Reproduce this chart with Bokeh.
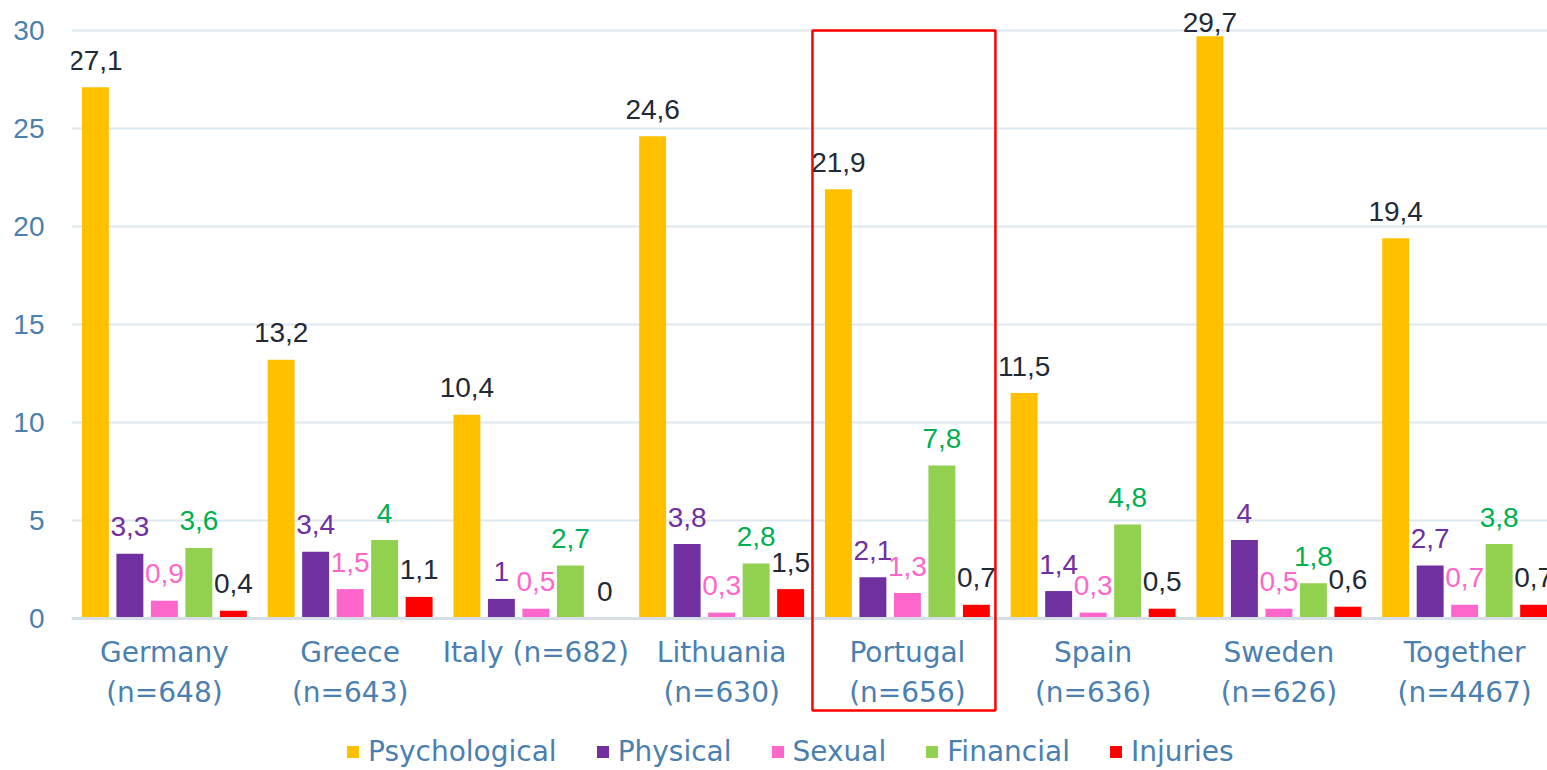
import numpy as np
from bokeh.plotting import figure
from bokeh.models import Range1d, FixedTicker, Legend, LegendItem, BoxAnnotation
from bokeh.embed import file_html
from bokeh.resources import INLINE
from bokeh.core.properties import value

# ---------------- data ----------------
countries = ["Germany", "Greece", "Italy", "Lithuania", "Portugal", "Spain", "Sweden", "Together"]
tick_labels = ["Germany\n(n=648)", "Greece\n(n=643)", "Italy (n=682)", "Lithuania\n(n=630)",
               "Portugal\n(n=656)", "Spain\n(n=636)", "Sweden\n(n=626)", "Together\n(n=4467)"]
series = ["Psychological", "Physical", "Sexual", "Financial", "Injuries"]
psychological = [27.1, 13.2, 10.4, 24.6, 21.9, 11.5, 29.7, 19.4]
physical = [3.3, 3.4, 1.0, 3.8, 2.1, 1.4, 4.0, 2.7]
sexual = [0.9, 1.5, 0.5, 0.3, 1.3, 0.3, 0.5, 0.7]
financial = [3.6, 4.0, 2.7, 2.8, 7.8, 4.8, 1.8, 3.8]
injuries = [0.4, 1.1, 0.0, 1.5, 0.7, 0.5, 0.6, 0.7]
y_ticks = [0, 5, 10, 15, 20, 25, 30]
highlight = "Portugal"

values = [psychological, physical, sexual, financial, injuries]
bar_colors = ["#ffc000", "#7030a0", "#ff66cc", "#92d050", "#ff0000"]
label_colors = ["#1f2a36", "#7030a0", "#ff66cc", "#00b050", "#1f2a36"]

NUM_FONT = "Liberation Sans"
WORD_FONT = "DejaVu Sans"
AXIS_COLOR = "#4a7fb0"

p = figure(width=1547, height=770, output_backend="svg", toolbar_location=None,
           x_range=Range1d(-0.5, 7.446), y_range=Range1d(-7.755, 31.53),
           min_border_left=71, min_border_right=0, min_border_top=0, min_border_bottom=0)
p.outline_line_color = None
p.background_fill_color = "white"
p.border_fill_color = "white"

p.xgrid.grid_line_color = None
p.ygrid.ticker = FixedTicker(ticks=y_ticks)
p.ygrid.grid_line_color = "#dce7f0"
p.ygrid.grid_line_width = 2

p.yaxis.ticker = FixedTicker(ticks=y_ticks)
p.yaxis.axis_line_color = None
p.yaxis.major_tick_line_color = None
p.yaxis.minor_tick_line_color = None
p.yaxis.major_label_text_font = NUM_FONT
p.yaxis.major_label_text_font_size = "28px"
p.yaxis.major_label_text_color = AXIS_COLOR
p.yaxis.major_label_standoff = 21

p.xaxis.fixed_location = 0
p.xaxis.ticker = FixedTicker(ticks=list(range(len(countries))))
p.xaxis.major_label_overrides = {i: lbl for i, lbl in enumerate(tick_labels)}
p.xaxis.axis_line_color = "#d6dee6"
p.xaxis.axis_line_width = 3
p.xaxis.major_tick_line_color = None
p.xaxis.minor_tick_line_color = None
p.xaxis.major_label_text_font = WORD_FONT
p.xaxis.major_label_text_font_size = "28px"
p.xaxis.major_label_text_color = AXIS_COLOR
p.xaxis.major_label_standoff = 12

step = 0.1857
bar_w = 0.145
group_x = np.arange(len(countries), dtype=float)
items = []
for i, (name, vals) in enumerate(zip(series, values)):
    xs = group_x + (i - 2) * step
    vals = np.array(vals, dtype=float)
    r = p.vbar(x=xs, top=vals, bottom=0, width=bar_w, fill_color=bar_colors[i],
               line_color=None)
    items.append(LegendItem(label=name, renderers=[r]))
    labels = [f"{v:g}".replace(".", ",") for v in vals]
    p.text(x=xs, y=np.minimum(vals, 29.05), text=labels, text_align="center",
           text_baseline="alphabetic", y_offset=-27,
           text_font=value(NUM_FONT), text_font_size="28px", text_color=label_colors[i])

# highlight box around one group
hi = countries.index(highlight)
box = BoxAnnotation(left=hi - 0.511, right=hi + 0.474, top=30, bottom=-4.69,
                    fill_color=None, fill_alpha=0, line_color="#ff0000",
                    line_alpha=1.0, line_width=2.5)
p.add_layout(box)

legend = Legend(items=items, orientation="horizontal", location=(274, 2),
                glyph_width=15, glyph_height=15, label_height=15, label_standoff=8,
                spacing=38, label_text_font=WORD_FONT, label_text_font_size="28px",
                label_text_color=AXIS_COLOR, border_line_color=None,
                background_fill_alpha=0, padding=0, margin=0)
p.add_layout(legend)

open("out.html", "w").write(file_html(p, INLINE))
